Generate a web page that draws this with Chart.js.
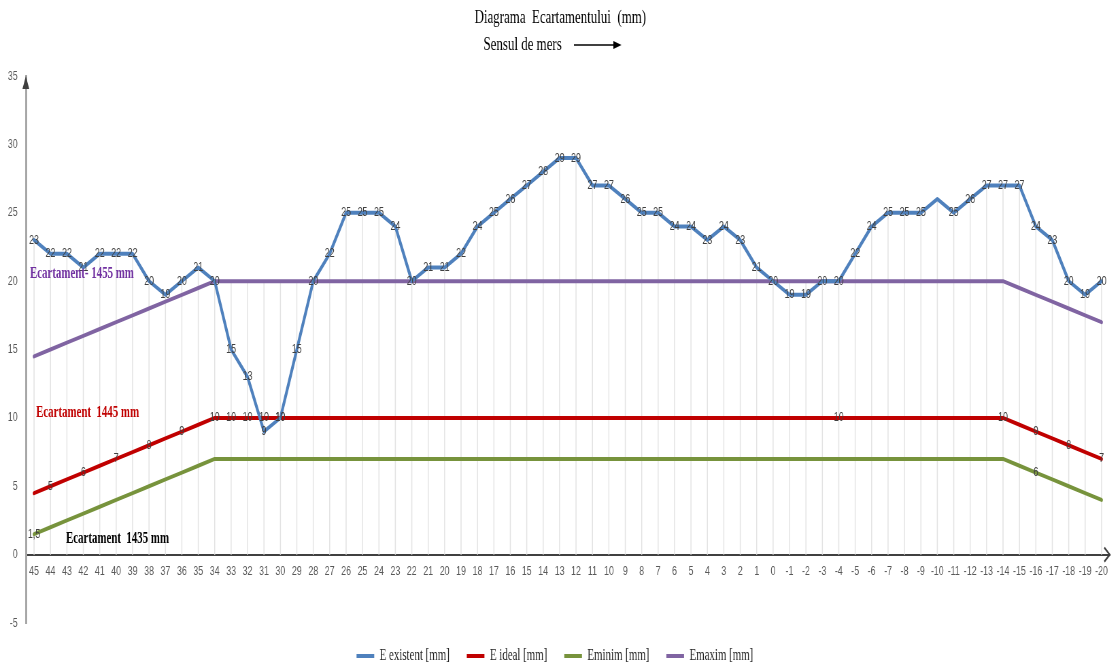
<!DOCTYPE html>
<html>
<head>
<meta charset="utf-8">
<title>Diagrama Ecartamentului</title>
<script src="https://cdn.jsdelivr.net/npm/chart.js@4.4.1/dist/chart.umd.min.js"></script>
<style>
    html, body { margin: 0; padding: 0; overflow: hidden; background: #fff; }
    /* the chart is drawn wide and squeezed, like the narrow Excel export */
    #wrap { position: relative; width: 1634px; height: 674px; transform: scaleX(0.68); transform-origin: 0 0; }
</style>
</head>
<body>
<div id="wrap"><canvas id="chart"></canvas></div>
<script>
// ------------------------------------------------------------
//  Date (mm) - pichet 45 ... -20
// ------------------------------------------------------------
const categories = ['45', '44', '43', '42', '41', '40', '39', '38', '37', '36', '35', '34',
    '33', '32', '31', '30', '29', '28', '27', '26', '25', '24', '23', '22',
    '21', '20', '19', '18', '17', '16', '15', '14', '13', '12', '11', '10',
    '9', '8', '7', '6', '5', '4', '3', '2', '1', '0', '-1', '-2',
    '-3', '-4', '-5', '-6', '-7', '-8', '-9', '-10', '-11', '-12', '-13', '-14',
    '-15', '-16', '-17', '-18', '-19', '-20'];

const existent = [23, 22, 22, 21, 22, 22, 22, 20, 19, 20, 21, 20,
    15, 13, 9, 10, 15, 20, 22, 25, 25, 25, 24, 20,
    21, 21, 22, 24, 25, 26, 27, 28, 29, 29, 27, 27,
    26, 25, 25, 24, 24, 23, 24, 23, 21, 20, 19, 19,
    20, 20, 22, 24, 25, 25, 25, 26, 25, 26, 27, 27,
    27, 24, 23, 20, 19, 20];

const ideal = [4.5, 5, 5.5, 6, 6.5, 7, 7.5, 8, 8.5, 9, 9.5, 10,
    10, 10, 10, 10, 10, 10, 10, 10, 10, 10, 10, 10,
    10, 10, 10, 10, 10, 10, 10, 10, 10, 10, 10, 10,
    10, 10, 10, 10, 10, 10, 10, 10, 10, 10, 10, 10,
    10, 10, 10, 10, 10, 10, 10, 10, 10, 10, 10, 10,
    9.5, 9, 8.5, 8, 7.5, 7];

const minim = [1.5, 2, 2.5, 3, 3.5, 4, 4.5, 5, 5.5, 6, 6.5, 7,
    7, 7, 7, 7, 7, 7, 7, 7, 7, 7, 7, 7,
    7, 7, 7, 7, 7, 7, 7, 7, 7, 7, 7, 7,
    7, 7, 7, 7, 7, 7, 7, 7, 7, 7, 7, 7,
    7, 7, 7, 7, 7, 7, 7, 7, 7, 7, 7, 7,
    6.5, 6, 5.5, 5, 4.5, 4];

const maxim = [14.5, 15, 15.5, 16, 16.5, 17, 17.5, 18, 18.5, 19, 19.5, 20,
    20, 20, 20, 20, 20, 20, 20, 20, 20, 20, 20, 20,
    20, 20, 20, 20, 20, 20, 20, 20, 20, 20, 20, 20,
    20, 20, 20, 20, 20, 20, 20, 20, 20, 20, 20, 20,
    20, 20, 20, 20, 20, 20, 20, 20, 20, 20, 20, 20,
    19.5, 19, 18.5, 18, 17.5, 17];

// pichetii la care apare eticheta valorii
const existentLabelled = categories.filter(c => c !== '-10');
const idealLabelled = ['44', '42', '40', '38', '36', '34', '33', '32', '31', '30', '-4', '-14', '-16', '-18', '-20'];
const minimLabelled = ['45', '-16'];
const maximLabelled = [];

const yTicks = [-5, 0, 5, 10, 15, 20, 25, 30, 35];

const notes = [
    { text: 'Ecartament- 1455 mm', value: 20.5, dx: 6, color: '#7030a0' },
    { text: 'Ecartament  1445 mm', value: 10.4, dx: 15, color: '#c00000' },
    { text: 'Ecartament  1435 mm', value: 1.15, dx: 59, color: '#000000' },
];

const fmt = v => String(v).replace('.', ',');

// linii verticale de la punctul cel mai inalt pana la axa
const dropLines = {
    id: 'dropLines',
    beforeDatasetsDraw(chart) {
        const { ctx, scales: { x, y } } = chart;
        const y0 = y.getPixelForValue(0);
        ctx.save();
        ctx.strokeStyle = '#e3e3e3';
        ctx.lineWidth = 1.5;
        categories.forEach((c, i) => {
            const top = Math.max(existent[i], ideal[i], minim[i], maxim[i]);
            const px = x.getPixelForValue(i);
            ctx.beginPath();
            ctx.moveTo(px, y.getPixelForValue(top));
            ctx.lineTo(px, y0);
            ctx.stroke();
        });
        ctx.restore();
    },
};

// etichetele valorilor, centrate pe puncte
const valueLabels = {
    id: 'valueLabels',
    afterDatasetsDraw(chart) {
        const { ctx } = chart;
        ctx.save();
        ctx.font = '13px "Liberation Sans", Arial, sans-serif';
        ctx.fillStyle = '#404040';
        ctx.textAlign = 'center';
        ctx.textBaseline = 'middle';
        chart.data.datasets.forEach((ds, di) => {
            const meta = chart.getDatasetMeta(di);
            meta.data.forEach((pt, i) => {
                if (!ds.labelled.includes(categories[i])) return;
                ctx.fillText(fmt(ds.data[i]), pt.x, pt.y);
            });
        });
        ctx.restore();
    },
};

// titlu, sageti pe axe, texte "Ecartament"
const decorations = {
    id: 'decorations',
    afterDraw(chart) {
        const { ctx, chartArea: area, scales: { y } } = chart;
        ctx.save();

        ctx.fillStyle = '#000';
        ctx.font = '19px "Liberation Serif", "Times New Roman", serif';
        ctx.textBaseline = 'middle';
        ctx.textAlign = 'center';
        ctx.fillText('Diagrama  Ecartamentului  (mm)', 824, 18);
        ctx.textAlign = 'left';
        ctx.fillText('Sensul de mers', 711, 45);

        ctx.strokeStyle = '#000';
        ctx.lineWidth = 1.5;
        ctx.beginPath();
        ctx.moveTo(844, 45);
        ctx.lineTo(904, 45);
        ctx.stroke();
        ctx.beginPath();
        ctx.moveTo(914, 45);
        ctx.lineTo(902, 41);
        ctx.lineTo(902, 49);
        ctx.closePath();
        ctx.fill();

        // sageata axei Y
        ctx.fillStyle = '#404040';
        ctx.beginPath();
        ctx.moveTo(area.left, area.top);
        ctx.lineTo(area.left - 5, area.top + 13);
        ctx.lineTo(area.left + 5, area.top + 13);
        ctx.closePath();
        ctx.fill();

        // sageata axei X
        const y0 = y.getPixelForValue(0);
        ctx.strokeStyle = '#404040';
        ctx.lineWidth = 2;
        ctx.beginPath();
        ctx.moveTo(area.right - 8, y0 - 7);
        ctx.lineTo(area.right, y0);
        ctx.lineTo(area.right - 8, y0 + 7);
        ctx.stroke();

        ctx.font = 'bold 16px "Liberation Serif", "Times New Roman", serif';
        ctx.textAlign = 'left';
        notes.forEach(n => {
            ctx.fillStyle = n.color;
            ctx.fillText(n.text, area.left + n.dx, y.getPixelForValue(n.value));
        });

        ctx.restore();
    },
};

function lineSet(label, data, color, labelled) {
    return {
        label,
        data,
        labelled,
        borderColor: color,
        backgroundColor: color,
        borderWidth: 4,
        borderJoinStyle: 'round',
        borderCapStyle: 'round',
        pointRadius: 0,
        pointHoverRadius: 0,
        tension: 0,
        fill: false,
    };
}

new Chart(document.getElementById('chart'), {
    type: 'line',
    data: {
        labels: categories,
        datasets: [
            lineSet('E existent [mm]', existent, '#4f81bd', existentLabelled),
            lineSet('E ideal [mm]', ideal, '#c00000', idealLabelled),
            lineSet('Eminim [mm]', minim, '#77933c', minimLabelled),
            lineSet('Emaxim [mm]', maxim, '#8064a2', maximLabelled),
        ],
    },
    options: {
        responsive: true,
        maintainAspectRatio: false,
        animation: false,
        layout: { autoPadding: false, padding: { top: 76, right: 2, left: 0, bottom: 0 } },
        plugins: {
            title: { display: false },
            tooltip: { enabled: false },
            legend: {
                position: 'bottom',
                labels: {
                    usePointStyle: true,
                    pointStyle: 'line',
                    pointStyleWidth: 26,
                    padding: 25,
                    color: '#262626',
                    font: { size: 16, family: '"Liberation Serif", "Times New Roman", serif' },
                },
            },
        },
        scales: {
            x: {
                type: 'category',
                offset: true,
                position: { y: 0 },
                grid: { display: false, drawTicks: true, tickLength: 9 },
                border: { display: true, color: '#404040', width: 2 },
                ticks: {
                    autoSkip: false,
                    maxRotation: 0,
                    padding: 0,
                    color: '#595959',
                    font: { size: 13, family: '"Liberation Sans", Arial, sans-serif' },
                },
            },
            y: {
                min: -5,
                max: 35,
                afterFit: s => { s.width = 38; },
                afterBuildTicks: s => { s.ticks = yTicks.map(v => ({ value: v })); },
                grid: { display: false, drawTicks: false },
                border: { display: true, color: '#a6a6a6', width: 3 },
                ticks: {
                    padding: 12,
                    color: '#595959',
                    font: { size: 13, family: '"Liberation Sans", Arial, sans-serif' },
                },
            },
        },
    },
    plugins: [dropLines, valueLabels, decorations],
});
</script>
</body>
</html>
